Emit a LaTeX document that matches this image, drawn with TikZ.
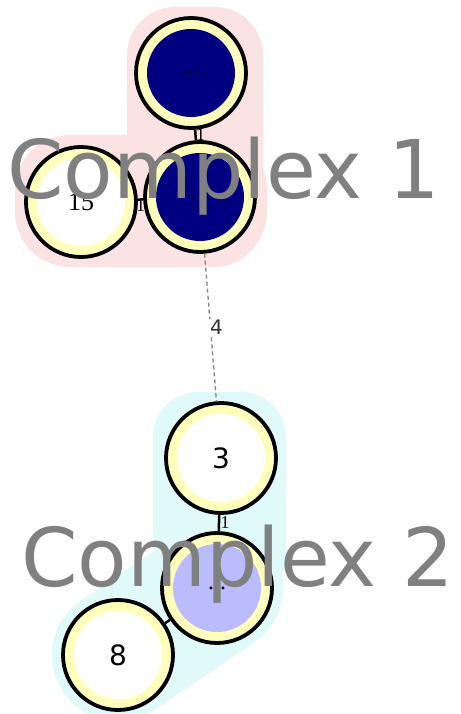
\documentclass[tikz,border=0pt]{standalone}
\usepackage{fontspec}
\setmainfont{DejaVu Sans}
\newfontfamily\serifnum{Liberation Serif}
\definecolor{ringyellow}{RGB}{255,255,187}
\definecolor{navycore}{RGB}{0,0,128}
\definecolor{lilaccore}{RGB}{187,187,255}
\definecolor{pinkhull}{RGB}{251,227,228}
\definecolor{cyanhull}{RGB}{224,250,250}
\definecolor{labelgray}{RGB}{128,128,128}
\begin{document}
\begin{tikzpicture}[x=1pt,y=-1pt,
  vert/.style={circle, draw=black, line width=3.8pt, fill=ringyellow,
    minimum size=110pt, inner sep=0pt, font=\fontsize{28}{30}\selectfont},
  core/.style={path picture={\fill[#1] (path picture bounding box.center) circle[radius=44pt];}},
  link/.style={draw=black, line width=2.5pt},
  linklabel/.style={font=\serifnum\fontsize{18}{20}\selectfont, inner sep=0pt},
  complexlabel/.style={anchor=base west, inner sep=0pt, text=labelgray,
    font=\fontsize{81}{88}\selectfont}]
\useasboundingbox (0,0) rectangle (460,714);
\fill[white] (0,0) rectangle (460,714);

% hull of complex 1
\fill[pinkhull, rounded corners=48pt] (127,7) rectangle (263,267);
\fill[pinkhull, rounded corners=55pt] (15,135) rectangle (267,267);

% hull of complex 2
\fill[cyanhull, rounded corners=45pt] (153,392) rectangle (286,600);
\draw[cyanhull, line width=132pt, line cap=round] (217,588) -- (118,655);

% vertices
\node[vert, core=navycore] (a) at (191,73) {\serifnum\fontsize{24}{26}\selectfont ...};
\node[vert, core=navycore] (b) at (200,197) {\serifnum\fontsize{24}{26}\selectfont ...};
\node[vert, core=white] (c) at (81,202) {\serifnum\fontsize{26}{28}\selectfont 15};
\node[vert, core=white] (d) at (221,458) {3};
\node[vert, core=lilaccore] (e) at (217,588) {\serifnum\fontsize{24}{26}\selectfont ...};
\node[vert, core=white] (f) at (118,655) {8};

% links
\draw[link] (a) -- node[linklabel, xshift=5pt]{1} (b);
\draw[link] (c) -- node[linklabel, yshift=-6pt]{1} (b);
\draw[link] (d) -- node[linklabel, xshift=6pt]{1} (e);
\draw[link] (f) -- (e);
\draw[labelgray, line width=1.3pt, dash pattern=on 4pt off 3pt]
  (b) -- node[pos=0.5, xshift=6pt, fill=white, inner sep=1pt,
  font=\fontsize{20}{22}\selectfont, text=black!80]{4} (d);

% complex captions
\node[complexlabel] (cap1) at (7,198) {Complex 1};
\node[complexlabel] (cap2) at (21,586) {Complex 2};
\end{tikzpicture}
\end{document}
